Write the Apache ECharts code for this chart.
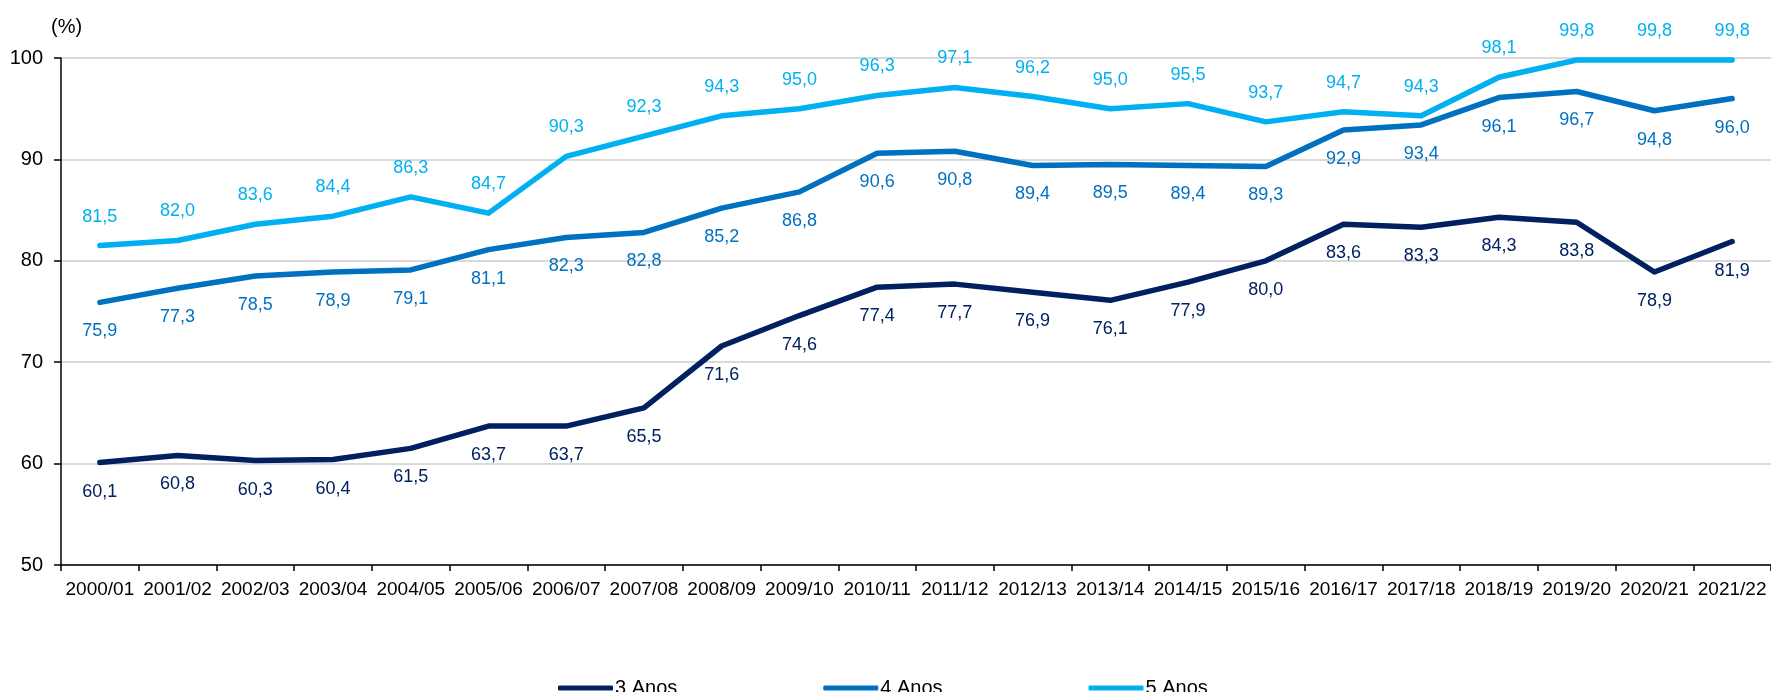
<!DOCTYPE html>
<html>
<head>
<meta charset="utf-8">
<script src="https://cdn.jsdelivr.net/npm/echarts@6/dist/echarts.min.js"></script>
<style>
  html, body { margin: 0; padding: 0; background: #fff; }
  #mainChart { width: 1771px; height: 692px; }
</style>
</head>
<body>
<div id="mainChart"></div>
<script>
// anos letivos
const years = ['2000/01','2001/02','2002/03','2003/04','2004/05','2005/06','2006/07','2007/08','2008/09','2009/10','2010/11',
  '2011/12','2012/13','2013/14','2014/15','2015/16','2016/17','2017/18','2018/19','2019/20','2020/21','2021/22']
const anos3 = [60.1,60.8,60.3,60.4,61.5,63.7,63.7,65.5,71.6,74.6,77.4,77.7,76.9,76.1,77.9,80.0,83.6,83.3,84.3,83.8,78.9,81.9]
const anos4 = [75.9,77.3,78.5,78.9,79.1,81.1,82.3,82.8,85.2,86.8,90.6,90.8,89.4,89.5,89.4,89.3,92.9,93.4,96.1,96.7,94.8,96.0]
const anos5 = [81.5,82.0,83.6,84.4,86.3,84.7,90.3,92.3,94.3,95.0,96.3,97.1,96.2,95.0,95.5,93.7,94.7,94.3,98.1,99.8,99.8,99.8]
const yTicks = [50, 60, 70, 80, 90, 100]

const font = '"Liberation Sans", Arial, sans-serif'

// virgula decimal
const fmt = (p) => p.value.toFixed(1).replace('.', ',')

function makeSeries(name, data, color, pos) {
  return {
    name: name,
    type: 'line',
    data: data,
    showSymbol: true,
    symbol: 'circle',
    symbolSize: 0,
    lineStyle: { width: 5.5, color: color, cap: 'round', join: 'round' },
    itemStyle: { color: color },
    label: {
      show: true,
      position: pos,
      distance: 20,
      formatter: fmt,
      color: color,
      fontFamily: font,
      fontSize: 18
    },
    labelLayout: { hideOverlap: false },
    emphasis: { disabled: true },
    animation: false
  }
}

const mainChart = echarts.init(document.getElementById('mainChart'))
mainChart.setOption({
  backgroundColor: '#fff',
  animation: false,
  title: {
    text: '(%)',
    left: 46,
    top: 12,
    textStyle: { fontFamily: font, fontSize: 20, fontWeight: 'normal', color: '#000' }
  },
  grid: {
    left: 61,
    right: -4,
    top: 58,
    bottom: 127,
    containLabel: false
  },
  legend: {
    data: ['3 Anos', '4 Anos', '5 Anos'],
    left: 553,
    top: 673,
    icon: 'roundRect',
    itemWidth: 55,
    itemHeight: 5,
    itemGap: 146,
    textStyle: {
      fontFamily: font,
      fontSize: 20,
      color: '#000',
      padding: [0, 0, 0, -3]
    }
  },
  xAxis: {
    type: 'category',
    data: years,
    boundaryGap: true,
    axisLine: { show: true, lineStyle: { color: '#000', width: 1.5 } },
    axisTick: { show: true, length: 6, interval: 0, lineStyle: { color: '#000', width: 1.5 } },
    axisLabel: {
      interval: 0,
      margin: 15,
      fontFamily: font,
      fontSize: 19,
      color: '#000'
    }
  },
  yAxis: {
    type: 'value',
    min: yTicks[0],
    max: yTicks[yTicks.length - 1],
    interval: 10,
    axisLine: { show: true, lineStyle: { color: '#000', width: 1.5 } },
    axisTick: { show: true, length: 7, lineStyle: { color: '#000', width: 1.5 } },
    axisLabel: {
      margin: 18,
      fontFamily: font,
      fontSize: 20,
      color: '#000'
    },
    splitLine: { show: true, lineStyle: { color: '#d9d9d9', width: 2 } }
  },
  series: [
    makeSeries('3 Anos', anos3, '#002060', 'bottom'),
    makeSeries('4 Anos', anos4, '#0070c0', 'bottom'),
    makeSeries('5 Anos', anos5, '#00b0f0', 'top')
  ]
})
</script>
</body>
</html>
